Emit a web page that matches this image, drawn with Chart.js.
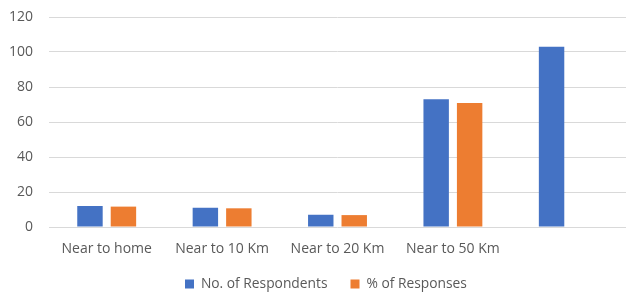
<!DOCTYPE html>
<html>
<head>
<meta charset="utf-8">
<script src="https://cdn.jsdelivr.net/npm/chart.js@4/dist/chart.umd.min.js"></script>
<style>
html,body{margin:0;padding:0;background:#fff;}
#wrap{width:626px;height:292px;position:relative;}
</style>
</head>
<body>
<div id="wrap"><canvas id="c" width="626" height="292"></canvas></div>
<script>
const categories = ["Near to home", "Near to 10 Km", "Near to 20 Km", "Near to 50 Km", ""];
const respondents = [12, 11, 7, 73, 103];
const responsesPct = [11.65, 10.68, 6.80, 70.87, null];
const yTicks = [0, 20, 40, 60, 80, 100, 120];

const legendShift = {
  id: 'legendShift',
  afterLayout(chart) {
    const l = chart.legend;
    if (!l) return;
    const p = l.options.labels.padding;
    const fs = l.options.labels.font.size;
    const lw = l.lineWidths[0];
    l.left = 0;
    l.right = 2 * 185 - p + lw;
    const h = l.height;
    l.top = 284 - p - fs / 2;
    l.bottom = l.top + h;
  }
};

Chart.defaults.font.family = "'Open Sans', sans-serif";
Chart.defaults.color = '#595959';

new Chart(document.getElementById('c'), {
  type: 'bar',
  data: {
    labels: categories,
    datasets: [
      { label: 'No. of Respondents', data: respondents, backgroundColor: '#4472C4' },
      { label: '% of Responses', data: responsesPct, backgroundColor: '#ED7D31' }
    ]
  },
  options: {
    responsive: false,
    animation: false,
    devicePixelRatio: 1,
    categoryPercentage: 0.58,
    barPercentage: 0.76,
    layout: { padding: { top: 17, right: 0, left: 0, bottom: -14.8 } },
    plugins: {
      legend: {
        position: 'bottom',
        labels: { boxWidth: 9, boxHeight: 9, padding: 23, font: { size: 13.8 }, color: '#595959' }
      },
      tooltip: { enabled: false }
    },
    scales: {
      x: {
        grid: { display: false, drawTicks: false },
        border: { display: false },
        ticks: { padding: 14, font: { size: 14 }, color: '#595959', maxRotation: 0, autoSkip: false },
        afterFit(s) { s.height = 33; }
      },
      y: {
        min: 0, max: 120,
        afterBuildTicks(s) { s.ticks = yTicks.map(v => ({ value: v })); },
        grid: { color: '#d9d9d9', lineWidth: 1, drawTicks: false },
        border: { display: false },
        ticks: { padding: 16, font: { size: 14, lineHeight: 0.1 }, color: '#595959', autoSkip: false },
        afterFit(s) { s.width = 49; }
      }
    }
  },
  plugins: [legendShift]
});
</script>
</body>
</html>
